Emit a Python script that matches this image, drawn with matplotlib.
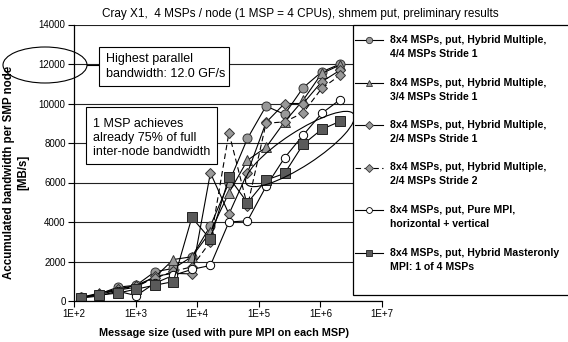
import matplotlib
matplotlib.use("Agg")
import matplotlib.pyplot as plt
from matplotlib.patches import Rectangle, Ellipse
from matplotlib.lines import Line2D
from matplotlib.ticker import FixedLocator, FixedFormatter, NullLocator

plt.rcParams['font.family'] = ['Liberation Sans', 'DejaVu Sans']

# ---------------- data ----------------
msg_size = [128, 256, 512, 1024, 2048, 4096, 8192, 16384, 32768, 65536,
            131072, 262144, 524288, 1048576, 2097152]

hm_44_s1 = [180, 350, 700, 800, 1480, 1650, 2240, 3800, 6000, 8230, 9870, 9450, 10800, 11600, 12000]
hm_34_s1 = [180, 400, 600, 800, 1200, 2100, 2240, 3500, 5480, 7130, 7780, 9070, 10170, 11520, 11950]
hm_24_s1 = [170, 330, 550, 700, 1250, 1400, 1370, 6490, 4400, 6490, 9040, 10000, 10000, 11100, 11690]
hm_24_s2 = [170, 330, 600, 750, 1150, 1500, 1730, 3000, 8520, 4800, 9000, 9070, 9530, 10760, 11440]
pure_mpi = [150, 250, 500, 270, 900, 1300, 1600, 1800, 4000, 4060, 5800, 7250, 8400, 9500, 10200]
masteronly = [170, 300, 400, 600, 800, 980, 4230, 3120, 6260, 4970, 6120, 6460, 7930, 8690, 9100]

labels = ["8x4 MSPs, put, Hybrid Multiple,\n4/4 MSPs Stride 1",
          "8x4 MSPs, put, Hybrid Multiple,\n3/4 MSPs Stride 1",
          "8x4 MSPs, put, Hybrid Multiple,\n2/4 MSPs Stride 1",
          "8x4 MSPs, put, Hybrid Multiple,\n2/4 MSPs Stride 2",
          "8x4 MSPs, put, Pure MPI,\nhorizontal + vertical",
          "8x4 MSPs, put, Hybrid Masteronly\nMPI: 1 of 4 MSPs"]

xticks = [1e2, 1e3, 1e4, 1e5, 1e6, 1e7]
xticklabels = ["1E+2", "1E+3", "1E+4", "1E+5", "1E+6", "1E+7"]
yticks = [0, 2000, 4000, 6000, 8000, 10000, 12000, 14000]

title = "Cray X1,  4 MSPs / node (1 MSP = 4 CPUs), shmem put, preliminary results"
xlabel = "Message size (used with pure MPI on each MSP)"
ylabel = "Accumulated bandwidth per SMP node\n[MB/s]"

# ---------------- figure ----------------
W, H = 568, 342
fig = plt.figure(figsize=(W / 100, H / 100), dpi=100)
ax = fig.add_axes([74 / W, 1 - 301 / H, (382 - 74) / W, (301 - 24.5) / H])


def pin(px, py):
    return px / 100, (H - py) / 100


grey = "#999999"
dark = "#5a5a5a"
edge = "#333333"
styles = [
    dict(marker='o', ms=6.5, mfc=grey, mec=edge, ls='-'),
    dict(marker='^', ms=7, mfc=grey, mec=edge, ls='-'),
    dict(marker='D', ms=5.5, mfc=grey, mec=edge, ls='-'),
    dict(marker='D', ms=5.5, mfc=grey, mec=edge, ls=(0, (5, 3))),
    dict(marker='o', ms=6, mfc='white', mec='black', ls='-'),
    dict(marker='s', ms=6.5, mfc=dark, mec='#222222', ls='-'),
]
all_series = [hm_44_s1, hm_34_s1, hm_24_s1, hm_24_s2, pure_mpi, masteronly]
for vals, st in zip(all_series, styles):
    ax.plot(msg_size, vals, color='black', lw=0.8, mew=0.7, **st)

ax.set_xscale('log')
ax.set_xlim(1e2, 1e7)
ax.set_ylim(0, 14000)
ax.xaxis.set_major_locator(FixedLocator(xticks))
ax.xaxis.set_major_formatter(FixedFormatter(xticklabels))
ax.xaxis.set_minor_locator(NullLocator())
ax.set_yticks(yticks)
ax.set_yticklabels([str(v) for v in yticks])
ax.tick_params(direction='out', length=4, width=0.8, labelsize=7, colors='black', pad=2)
ax.grid(axis='y', color='#222222', lw=0.8)
ax.set_axisbelow(True)
for s in ['top', 'right']:
    ax.spines[s].set_visible(False)
for s in ['left', 'bottom']:
    ax.spines[s].set_linewidth(0.9)

fig.text(300 / W, 1 - 14 / H, title, ha='center', va='center', fontsize=8.5)
fig.text(224 / W, 1 - 333 / H, xlabel, ha='center', va='center', fontsize=7.8, fontweight='bold')
fig.text(16 / W, 1 - 172 / H, ylabel, ha='center', va='center', rotation=90,
         fontsize=8.3, fontweight='bold', linespacing=1.3)

# annotation ellipses
fig.add_artist(Ellipse(pin(45, 65), 84 / 100, 36 / 100, transform=fig.dpi_scale_trans,
                       fill=False, edgecolor='black', lw=0.8, zorder=3))
fig.add_artist(Ellipse(pin(300, 149), 128 / 100, 34 / 100, angle=33,
                       transform=fig.dpi_scale_trans, fill=False, edgecolor='black',
                       lw=0.8, zorder=3))
fig.add_artist(Line2D([0.87, 0.99], [(H - 65) / 100] * 2, transform=fig.dpi_scale_trans,
                      color='black', lw=0.8, zorder=3))

# annotation boxes
x0, y0 = pin(99, 86)
fig.add_artist(Rectangle((x0, y0), 130 / 100, 39 / 100, transform=fig.dpi_scale_trans,
                         facecolor='white', edgecolor='black', lw=0.8, zorder=4))
fig.text(106 / W, 1 - 66.5 / H, "Highest parallel\nbandwidth: 12.0 GF/s", ha='left',
         va='center', fontsize=9, linespacing=1.3, zorder=5)
x0, y0 = pin(86, 164)
fig.add_artist(Rectangle((x0, y0), 131 / 100, 57 / 100, transform=fig.dpi_scale_trans,
                         facecolor='white', edgecolor='black', lw=0.8, zorder=4))
fig.text(93 / W, 1 - 138 / H, "1 MSP achieves\nalready 75% of full\ninter-node bandwidth",
         ha='left', va='center', fontsize=9, linespacing=1.25, zorder=5)

# legend frame + manual legend entries
x0, y0 = pin(353, 295)
fig.add_artist(Rectangle((x0, y0), 230 / 100, 270 / 100, transform=fig.dpi_scale_trans,
                         facecolor='white', edgecolor='black', lw=0.9, zorder=4))
for i, (lab, st) in enumerate(zip(labels, styles)):
    yc = 40 + 42.5 * i
    ly = [(H - yc) / 100] * 2
    fig.add_artist(Line2D([355 / 100, 383 / 100], ly, transform=fig.dpi_scale_trans,
                          color='black', lw=0.8, ls=st['ls'], zorder=5))
    fig.add_artist(Line2D([3.69], [(H - yc) / 100], transform=fig.dpi_scale_trans,
                          marker=st['marker'], ms=st['ms'] * 0.7, mfc=st['mfc'],
                          mec=st['mec'], mew=0.6, ls='none', zorder=6))
    fig.text(390 / W, 1 - (yc - 5) / H, lab, ha='left', va='top', fontsize=7.6,
             fontweight='bold', linespacing=1.5, zorder=6)

fig.savefig("out.png", dpi=100)
